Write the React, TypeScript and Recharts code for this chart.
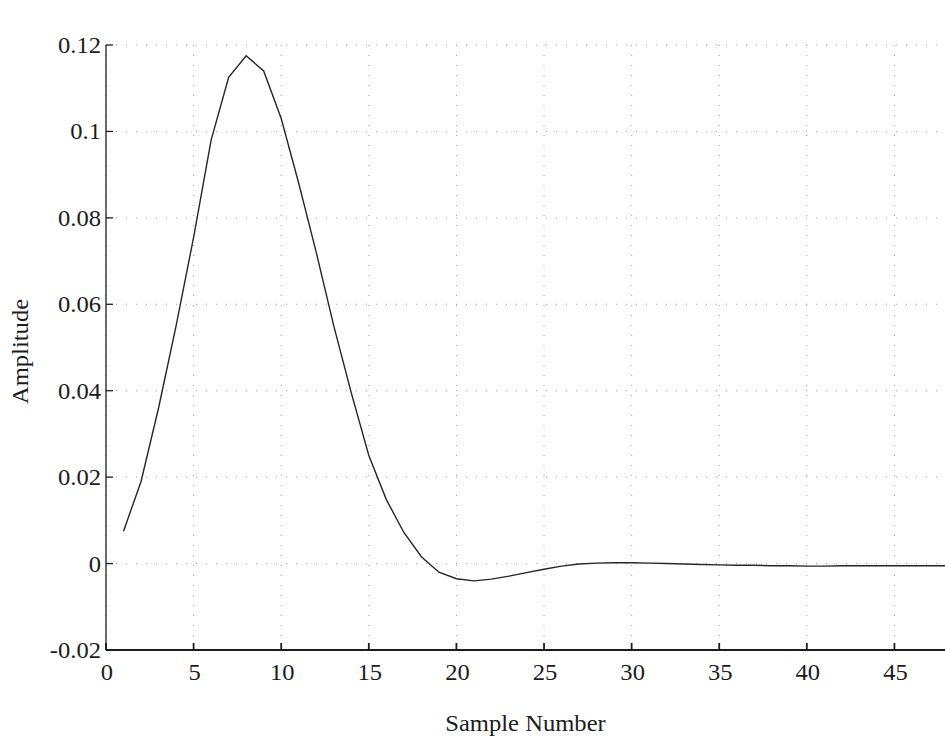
import React from "react";
import {
  LineChart,
  Line,
  XAxis,
  YAxis,
  CartesianGrid,
  Label,
} from "recharts";

// sample index 1..48
const samples = [
  1, 2, 3, 4, 5, 6, 7, 8, 9, 10, 11, 12, 13, 14, 15, 16, 17, 18, 19, 20, 21,
  22, 23, 24, 25, 26, 27, 28, 29, 30, 31, 32, 33, 34, 35, 36, 37, 38, 39, 40,
  41, 42, 43, 44, 45, 46, 47, 48,
];

// impulse response
const amplitude = [
  0.0075, 0.019, 0.036, 0.055, 0.0755, 0.098, 0.1125, 0.1175, 0.114, 0.103,
  0.088, 0.072, 0.055, 0.0395, 0.025, 0.0148, 0.0072, 0.0016, -0.002, -0.0035,
  -0.004, -0.0036, -0.0029, -0.0021, -0.0013, -0.0006, -0.0001, 0.0001, 0.0002,
  0.0002, 0.0001, 0, -0.0001, -0.0002, -0.0003, -0.0004, -0.0004, -0.0005,
  -0.0005, -0.0006, -0.0006, -0.0005, -0.0005, -0.0005, -0.0005, -0.0005,
  -0.0005, -0.0005,
];

const xTicks = [0, 5, 10, 15, 20, 25, 30, 35, 40, 45];
const yTicks = [-0.02, 0, 0.02, 0.04, 0.06, 0.08, 0.1, 0.12];
const yTickLabels = ["-0.02", "0", "0.02", "0.04", "0.06", "0.08", "0.1", "0.12"];

const data = samples.map((n, i) => ({ n, value: amplitude[i] }));

const FONT = "'Liberation Serif', 'DejaVu Serif', serif";
const SX = 1.07; // the scan is a bit stretched sideways
const INK = "#1c1c1c";

const XTick = (props: any) => {
  const { x, y, payload } = props;
  return (
    <g transform={`translate(${x + 1},${y}) scale(${SX},1)`}>
      <text x={0} y={0} textAnchor="middle" fontFamily={FONT} fontSize={23} fill={INK}>
        {payload.value}
      </text>
    </g>
  );
};

const YTick = (props: any) => {
  const { x, y, payload } = props;
  const idx = yTicks.findIndex((t) => Math.abs(t - payload.value) < 1e-9);
  return (
    <g transform={`translate(${x},${y + 8}) scale(${SX},1)`}>
      <text x={0} y={0} textAnchor="end" fontFamily={FONT} fontSize={23} fill={INK}>
        {idx >= 0 ? yTickLabels[idx] : payload.value}
      </text>
    </g>
  );
};

export default function App() {
  return (
    <div
      style={{
        position: "absolute",
        left: 0,
        top: 0,
        width: 945,
        height: 739,
        overflow: "hidden",
        background: "#fff",
      }}
    >
      <LineChart
        width={948}
        height={739}
        data={data}
        margin={{ top: 45, right: 0, bottom: 0, left: 0 }}
      >
        <CartesianGrid
          stroke="#a0a0a0"
          strokeDasharray="1 9"
          horizontalValues={yTicks}
          verticalValues={xTicks}
        />
        <XAxis
          dataKey="n"
          type="number"
          domain={[0, 48]}
          ticks={xTicks}
          allowDataOverflow
          height={89}
          stroke={INK}
          strokeWidth={1.8}
          tickSize={-7}
          tickMargin={37}
          tick={<XTick />}
        >
          <Label
            content={(p: any) => {
              const vb = p.viewBox;
              const cx = vb.x + vb.width / 2 - 1;
              return (
                <g transform={`translate(${cx},${vb.y + 81}) scale(${SX},1)`}>
                  <text x={0} y={0} textAnchor="middle" fontFamily={FONT} fontSize={23} fill={INK}>
                    Sample Number
                  </text>
                </g>
              );
            }}
          />
        </XAxis>
        <XAxis
          xAxisId="top"
          dataKey="n"
          type="number"
          orientation="top"
          domain={[0, 48]}
          ticks={xTicks}
          allowDataOverflow
          height={0}
          stroke={INK}
          strokeWidth={1.8}
          tickSize={-5}
          tick={false}
        >
          <Label
            content={(p: any) => {
              const vb = p.viewBox;
              const cx = vb.x + vb.width / 2;
              return (
                <g transform={`translate(${cx},${vb.y - 17}) scale(${SX},1)`}>
                  <text x={0} y={0} textAnchor="middle" fontFamily={FONT} fontSize={23} fill={INK}>
                    Impulse Response of MOD LPF
                  </text>
                </g>
              );
            }}
          />
        </XAxis>
        <YAxis
          type="number"
          domain={[-0.02, 0.12]}
          ticks={yTicks}
          allowDataOverflow
          width={106}
          stroke={INK}
          strokeWidth={1.3}
          tickSize={-7}
          tickMargin={12}
          tick={<YTick />}
        >
          <Label
            content={(p: any) => {
              const vb = p.viewBox;
              const cy = vb.y + vb.height / 2 + 4;
              return (
                <g transform={`translate(28,${cy}) rotate(-90) scale(${SX},1)`}>
                  <text x={0} y={0} textAnchor="middle" fontFamily={FONT} fontSize={23} fill={INK}>
                    Amplitude
                  </text>
                </g>
              );
            }}
          />
        </YAxis>
        <YAxis
          yAxisId="right"
          type="number"
          orientation="right"
          domain={[-0.02, 0.12]}
          ticks={yTicks}
          allowDataOverflow
          width={1}
          axisLine={false}
          stroke={INK}
          strokeWidth={1.6}
          tickSize={-9}
          tick={false}
        />
        <Line
          type="linear"
          dataKey="value"
          stroke="#262626"
          strokeWidth={1.4}
          dot={false}
          isAnimationActive={false}
        />
      </LineChart>
    </div>
  );
}
